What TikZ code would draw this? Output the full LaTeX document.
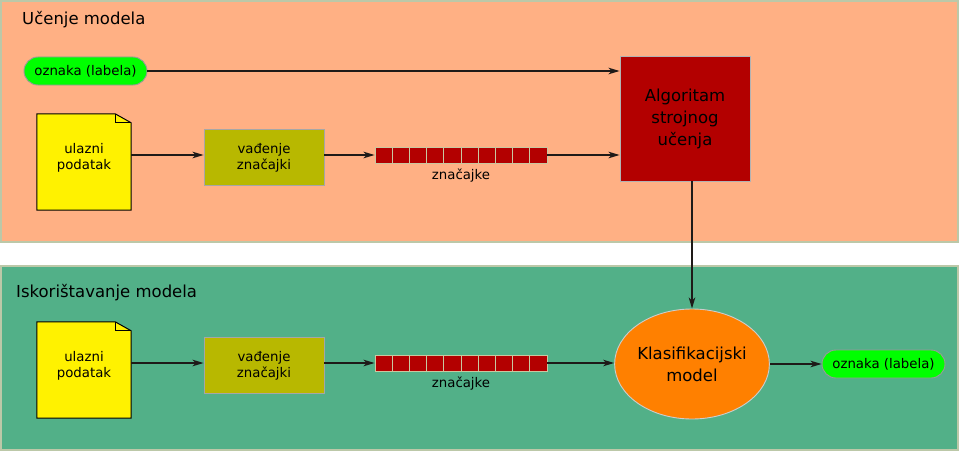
\documentclass[tikz,border=0pt]{standalone}
\usepackage{fontspec}
\setmainfont{DejaVu Sans}
\usetikzlibrary{arrows.meta,shapes.geometric}
\definecolor{salmonbg}{HTML}{FFB084}
\definecolor{greenbg}{HTML}{52B088}
\definecolor{panelborder}{HTML}{BCC8A8}
\definecolor{olivebox}{HTML}{B8B800}
\definecolor{darkredbox}{HTML}{B30000}
\definecolor{orangebox}{HTML}{FF8000}
\definecolor{pillgreen}{HTML}{00FF00}
\definecolor{sqborder}{HTML}{C8C8A0}
\definecolor{linecol}{HTML}{1E1A18}
\begin{document}
\begin{tikzpicture}[x=1pt,y=-1pt,
  arr/.style={-{Stealth[length=11pt,width=6.5pt,inset=3pt]}, line width=1.5pt, draw=linecol},
  panel/.style={draw=panelborder, line width=1.2pt, inner sep=0pt},
  titletext/.style={font=\fontsize{16.5}{19}\selectfont, anchor=west, inner sep=0pt},
  smalltext/.style={font=\fontsize{13.3}{16}\selectfont},
  pill/.style={smalltext, fill=pillgreen, draw=gray!80, line width=0.9pt, rounded corners=14pt, minimum width=123pt, minimum height=28pt, inner sep=0pt},
  docbox/.style={minimum width=94pt, minimum height=96pt, inner sep=0pt, smalltext, align=center},
  extract/.style={smalltext, fill=olivebox, draw=gray!70, line width=0.9pt, minimum width=120pt, minimum height=56pt, inner sep=0pt, align=center},
  sq/.style={fill=darkredbox, draw=sqborder, line width=0.9pt, minimum width=17.2pt, minimum height=16pt, inner sep=0pt},
  bigtext/.style={font=\fontsize{16.5}{22}\selectfont, align=center}
]
\useasboundingbox (0,0) rectangle (960,452);
\fill[white] (0,0) rectangle (960,452);

% panels
\node[panel, fill=salmonbg, minimum width=957pt, minimum height=241pt] (p1) at (479.5,121.5) {};
\node[panel, fill=greenbg, minimum width=957pt, minimum height=184pt] (p2) at (479.5,358) {};
\node[titletext] (t1) at (22,20) {Učenje modela};
\node[titletext] (t2) at (16,293) {Iskorištavanje modela};

% ---- top row ----
\node[pill] (lab1) at (85.5,71) {oznaka (labela)};
\node[bigtext, fill=darkredbox, draw=gray!60, line width=0.9pt, minimum width=130pt, minimum height=125pt, inner sep=0pt] (alg) at (685,118.5) {Algoritam\\strojnog\\učenja};

\node[docbox] (doc1) at (84,162) {};
\node[extract] (ex1) at (264,157.5) {vađenje\\značajki};
\foreach \i in {0,...,9} {
  \node[sq] (sa\i) at ({383.6+\i*17.2},155.5) {};
}
\node[smalltext, inner sep=0pt] (za) at (461,176) {značajke};

% ---- bottom row ----
\node[docbox] (doc2) at (84,370) {};
\node[extract] (ex2) at (264,365.5) {vađenje\\značajki};
\foreach \i in {0,...,9} {
  \node[sq] (sb\i) at ({383.6+\i*17.2},363.5) {};
}
\node[smalltext, inner sep=0pt] (zb) at (461,384) {značajke};
\node[ellipse, bigtext, fill=orangebox, draw=gray!40, line width=0.9pt, minimum width=154pt, minimum height=110pt, inner sep=0pt] (klas) at (692,364) {Klasifikacijski\\model};
\node[pill] (lab2) at (883.5,364) {oznaka (labela)};

% document shapes
\foreach \d in {doc1,doc2} {
  \draw[fill=yellow, line width=1pt, line join=miter]
    (\d.north west) -- ([xshift=-16pt]\d.north east) -- ([yshift=-9pt]\d.north east)
    -- (\d.south east) -- (\d.south west) -- cycle;
  \draw[line width=0.8pt]
    ([xshift=-16pt]\d.north east) -- ([xshift=-16pt,yshift=-9pt]\d.north east) -- ([yshift=-9pt]\d.north east);
  \node[smalltext, align=center, inner sep=0pt] at ([yshift=4.5pt]\d.center) {ulazni\\podatak};
}

% connectors top
\draw[arr] (lab1.east) -- (lab1.east -| alg.west);
\draw[arr] ([yshift=2.5pt]doc1.east |- ex1.west) -- ([yshift=2.5pt]ex1.west);
\draw[arr] ([yshift=2.5pt]ex1.east) -- ([yshift=2.5pt]ex1.east -| sa0.west);
\draw[arr] ([yshift=0.5pt]sa9.east) -- ([yshift=0.5pt]sa9.east -| alg.west);
\draw[arr] (alg.south -| klas.north) -- (klas.north);

% connectors bottom
\draw[arr] ([yshift=2.5pt]doc2.east |- ex2.west) -- ([yshift=2.5pt]ex2.west);
\draw[arr] ([yshift=2.5pt]ex2.east) -- ([yshift=2.5pt]ex2.east -| sb0.west);
\draw[arr] ([yshift=0.5pt]sb9.east) -- ([yshift=0.5pt]sb9.east -| klas.west);
\draw[arr] (klas.east) -- (lab2.west);
\end{tikzpicture}
\end{document}
